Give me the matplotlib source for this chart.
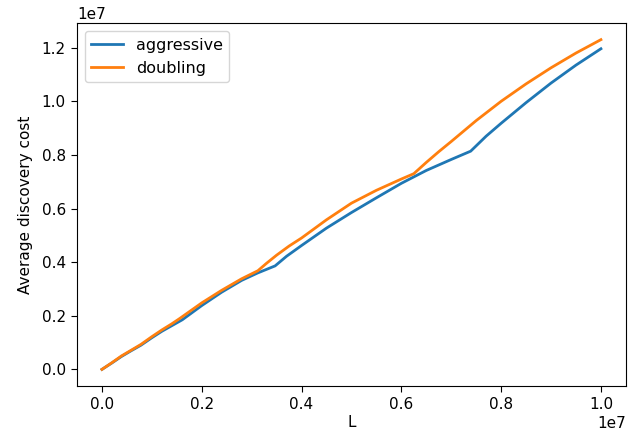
import matplotlib
matplotlib.use('Agg')
import matplotlib.pyplot as plt


# values in units of 1e7 (x) and 1e6 (y)
aggr_x = [0, 0.02, 0.039, 0.059, 0.078, 0.1, 0.12, 0.14, 0.161, 0.2, 0.24, 0.28, 0.3125, 0.347,
          0.37, 0.4, 0.45, 0.5, 0.55, 0.6, 0.65, 0.7, 0.739, 0.77, 0.8, 0.85, 0.9, 0.95, 1.0]
aggr_y = [0, 0.24, 0.48, 0.7, 0.9, 1.18, 1.42, 1.63, 1.85, 2.38, 2.88, 3.32, 3.6, 3.86,
          4.22, 4.62, 5.27, 5.85, 6.4, 6.94, 7.42, 7.83, 8.14, 8.7, 9.18, 9.95, 10.68, 11.35, 11.96]

doub_x = [0, 0.02, 0.039, 0.059, 0.078, 0.1, 0.12, 0.14, 0.156, 0.2, 0.24, 0.28, 0.3125, 0.33,
          0.35, 0.375, 0.4, 0.45, 0.5, 0.55, 0.6, 0.625, 0.65, 0.675, 0.7, 0.75, 0.8, 0.85,
          0.9, 0.95, 1.0]
doub_y = [0, 0.25, 0.5, 0.72, 0.93, 1.22, 1.47, 1.7, 1.9, 2.48, 2.95, 3.38, 3.68, 3.96,
          4.26, 4.6, 4.9, 5.58, 6.2, 6.68, 7.1, 7.3, 7.72, 8.12, 8.5, 9.28, 10.0, 10.65,
          11.25, 11.8, 12.3]


def main():
    plt.rcParams['font.size'] = 11
    plt.rcParams['xtick.major.size'] = 4.5
    plt.rcParams['ytick.major.size'] = 4.5
    fig = plt.figure(figsize=(6.28, 4.37), dpi=100)
    ax = fig.add_axes([0.1226, 0.117, 0.874, 0.83])
    ax.plot([v * 1e7 for v in aggr_x], [v * 1e6 for v in aggr_y], lw=2, label='aggressive')
    ax.plot([v * 1e7 for v in doub_x], [v * 1e6 for v in doub_y], lw=2, label='doubling')
    ax.set_xlabel('L', labelpad=2)
    ax.set_ylabel('Average discovery cost', labelpad=6)
    ax.legend(loc='upper left', fontsize=11.5)
    fig.savefig('out.png')


if __name__ == '__main__':
    main()
